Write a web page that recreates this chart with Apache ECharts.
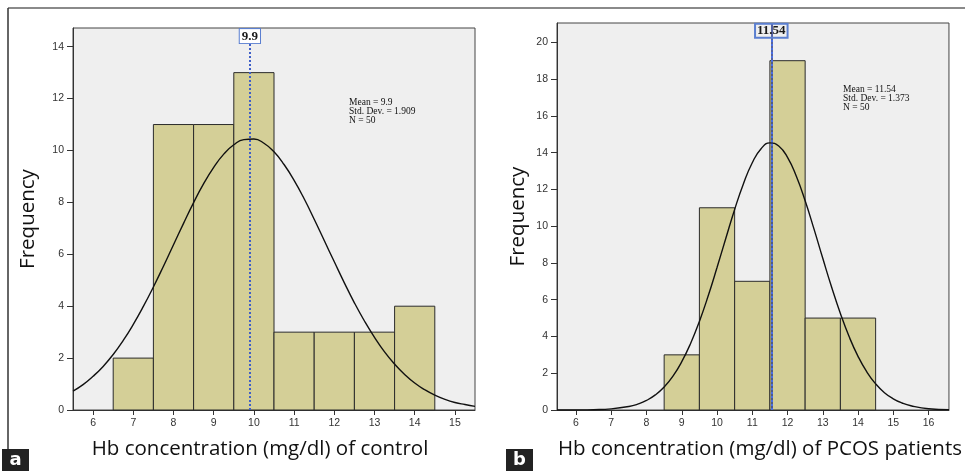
<!DOCTYPE html>
<html>
<head>
<meta charset="utf-8">
<script src="https://cdn.jsdelivr.net/npm/echarts@6/dist/echarts.min.js"></script>
<style>
  html, body { margin: 0; padding: 0; background: #fff; }
  #main { width: 965px; height: 471px; }
</style>
</head>
<body>
<div id="main"></div>
<script>
// histogram bins (bin centres, width 1)
var binsA = [7, 8, 9, 10, 11, 12, 13, 14];
var freqA = [2, 11, 11, 13, 3, 3, 3, 4];
var binsB = [9, 10, 11, 12, 13, 14];
var freqB = [3, 11, 7, 19, 5, 5];

// normal curve heights
var curveXA = [5.5, 5.75, 6, 6.25, 6.5, 6.75, 7, 7.25, 7.5, 7.75, 8, 8.25, 8.5, 8.75, 9, 9.25, 9.5, 9.75, 10, 10.25, 10.5, 10.75,
  11, 11.25, 11.5, 11.75, 12, 12.25, 12.5, 12.75, 13, 13.25, 13.5, 13.75, 14, 14.25, 14.5, 14.75, 15, 15.25, 15.5];
var curveYA = [0.73, 0.98, 1.3, 1.68, 2.14, 2.68, 3.3, 3.99, 4.74, 5.54, 6.37, 7.19, 7.99, 8.72, 9.35, 9.86, 10.22, 10.42, 10.44, 10.28, 9.95, 9.46,
  8.85, 8.14, 7.35, 6.53, 5.71, 4.9, 4.13, 3.43, 2.8, 2.24, 1.77, 1.37, 1.04, 0.78, 0.57, 0.41, 0.29, 0.21, 0.14];
var curveXB = [5.46, 6, 6.5, 7, 7.5, 7.75, 8, 8.25, 8.5, 8.75, 9, 9.25, 9.5, 9.75, 10, 10.25, 10.5, 10.75, 11, 11.25, 11.5, 11.75,
  12, 12.25, 12.5, 12.75, 13, 13.25, 13.5, 13.75, 14, 14.25, 14.5, 14.75, 15, 15.25, 15.5, 16, 16.58];
var curveYB = [0, 0.004, 0.017, 0.06, 0.19, 0.32, 0.52, 0.82, 1.25, 1.84, 2.63, 3.62, 4.82, 6.21, 7.75, 9.34, 10.91, 12.31, 13.45, 14.21, 14.53, 14.36,
  13.74, 12.71, 11.38, 9.85, 8.25, 6.69, 5.25, 3.98, 2.92, 2.07, 1.42, 0.94, 0.61, 0.38, 0.23, 0.07, 0.02];

var meanA = 9.9, meanB = 11.54;
var statsA = ['Mean = 9.9', 'Std. Dev. = 1.909', 'N = 50'];
var statsB = ['Mean = 11.54', 'Std. Dev. = 1.373', 'N = 50'];

var xTicksA = [6, 7, 8, 9, 10, 11, 12, 13, 14, 15];
var xTicksB = [6, 7, 8, 9, 10, 11, 12, 13, 14, 15, 16];
var yTicksA = [0, 2, 4, 6, 8, 10, 12, 14];
var yTicksB = [0, 2, 4, 6, 8, 10, 12, 14, 16, 18, 20];

var myChart = echarts.init(document.getElementById('main'));

function zip(a, b) {
  return a.map(function (v, i) { return [v, b[i]]; });
}

function renderBin(params, api) {
  var x = api.value(0), y = api.value(1);
  var p0 = api.coord([x - 0.5, y]);
  var p1 = api.coord([x + 0.5, 0]);
  return {
    type: 'rect',
    shape: { x: p0[0], y: p0[1], width: p1[0] - p0[0], height: p1[1] - p0[1] },
    style: { fill: '#d4cf97', stroke: '#2b2b2b', lineWidth: 1 }
  };
}

function xAxisOf(idx, min, max, ticks, title, pad) {
  return {
    type: 'value', gridIndex: idx, min: min, max: max,
    name: title, nameLocation: 'middle', nameGap: 29,
    nameTextStyle: { fontFamily: 'Open Sans', fontSize: 20.5, color: '#111', padding: pad },
    axisLine: { lineStyle: { color: '#333' } },
    axisTick: { customValues: ticks, length: 5, lineStyle: { color: '#333' } },
    axisLabel: { customValues: ticks, fontSize: 10.5, color: '#333', margin: 8, fontFamily: 'Liberation Sans' },
    splitLine: { show: false }
  };
}

function yAxisOf(idx, max, ticks, gap) {
  return {
    type: 'value', gridIndex: idx, min: 0, max: max,
    name: 'Frequency', nameLocation: 'middle', nameGap: gap, nameRotate: 90,
    nameTextStyle: { fontFamily: 'Open Sans', fontSize: 20.5, color: '#111' },
    axisLine: { show: true, lineStyle: { color: '#333' } },
    axisTick: { show: true, customValues: ticks, length: 6, lineStyle: { color: '#333' } },
    axisLabel: { customValues: ticks, fontSize: 10.5, color: '#333', margin: 9, fontFamily: 'Liberation Sans' },
    splitLine: { show: false }
  };
}

function meanLabel(text, bg) {
  return {
    show: true, position: 'end', distance: 1, formatter: text,
    fontFamily: 'Liberation Serif', fontWeight: 'bold', fontSize: 13, color: '#1a1a1a',
    backgroundColor: bg, borderColor: '#5b7fd0', borderWidth: 1, padding: [1, 2, 0, 2]
  };
}

function statsText(x, y, lines) {
  return {
    type: 'text', left: x, top: y,
    style: { text: lines.join('\n'), font: '9.5px "Liberation Serif"', fill: '#111', lineHeight: 9 }
  };
}

function panelTag(x, letter) {
  return {
    type: 'group', left: x, top: 449,
    children: [
      { type: 'rect', shape: { x: 0, y: 0, width: 27, height: 22 }, style: { fill: '#222' } },
      { type: 'text', style: { text: letter, x: 13.5, y: 11, align: 'center', verticalAlign: 'middle', font: 'bold 18px "DejaVu Sans"', fill: '#fff' } }
    ]
  };
}

var option = {
  animation: false,
  grid: [
    { left: 73, top: 28, width: 402, height: 382, show: true, backgroundColor: '#efefef', borderColor: '#444', borderWidth: 1 },
    { left: 557, top: 23, width: 396, height: 387, show: true, backgroundColor: '#efefef', borderColor: '#444', borderWidth: 1 }
  ],
  xAxis: [
    xAxisOf(0, 5.5, 15.5, xTicksA, 'Hb concentration (mg/dl) of control', [0, 28, 0, 0]),
    xAxisOf(1, 5.46, 16.58, xTicksB, 'Hb concentration (mg/dl) of PCOS patients', [0, 0, 0, 14])
  ],
  yAxis: [
    yAxisOf(0, 14.72, yTicksA, 34),
    yAxisOf(1, 21.05, yTicksB, 28)
  ],
  series: [
    {
      type: 'custom', xAxisIndex: 0, yAxisIndex: 0,
      renderItem: renderBin, encode: { x: 0, y: 1 },
      data: zip(binsA, freqA)
    },
    {
      type: 'custom', xAxisIndex: 1, yAxisIndex: 1,
      renderItem: renderBin, encode: { x: 0, y: 1 },
      data: zip(binsB, freqB)
    },
    {
      type: 'line', xAxisIndex: 0, yAxisIndex: 0, smooth: true, showSymbol: false,
      lineStyle: { color: '#111', width: 1.4 },
      data: zip(curveXA, curveYA),
      markLine: {
        silent: true, symbol: 'none',
        lineStyle: { color: '#3f5fc8', type: 'dotted', width: 2 },
        label: meanLabel(String(meanA), '#fff'),
        data: [[{ coord: [meanA, 0] }, { coord: [meanA, 14.1] }]]
      }
    },
    {
      type: 'line', xAxisIndex: 1, yAxisIndex: 1, smooth: true, showSymbol: false,
      lineStyle: { color: '#111', width: 1.4 },
      data: zip(curveXB, curveYB),
      markLine: {
        silent: true, symbol: 'none',
        lineStyle: { color: '#22348a', type: 'solid', width: 1.5 },
        label: { show: false },
        data: [[{ coord: [meanB, 0] }, { coord: [meanB, 21.05] }]]
      }
    },
    {
      type: 'line', xAxisIndex: 1, yAxisIndex: 1, showSymbol: false,
      lineStyle: { width: 0 }, data: [],
      markLine: {
        silent: true, symbol: 'none',
        lineStyle: { color: '#4a6fe0', type: 'dotted', width: 2 },
        label: meanLabel(String(meanB), 'rgba(255,255,255,0)'),
        data: [[{ coord: [meanB, 0] }, { coord: [meanB, 20.2] }]]
      }
    }
  ],
  graphic: [
    { type: 'line', shape: { x1: 8, y1: 8, x2: 965, y2: 8 }, style: { stroke: '#8a8a8a', lineWidth: 2 } },
    { type: 'line', shape: { x1: 8, y1: 8, x2: 8, y2: 449 }, style: { stroke: '#333', lineWidth: 1.5 } },
    statsText(349, 97, statsA),
    statsText(843, 84, statsB),
    panelTag(2, 'a'),
    panelTag(506, 'b')
  ]
};
myChart.setOption(option);
</script>
</body>
</html>
